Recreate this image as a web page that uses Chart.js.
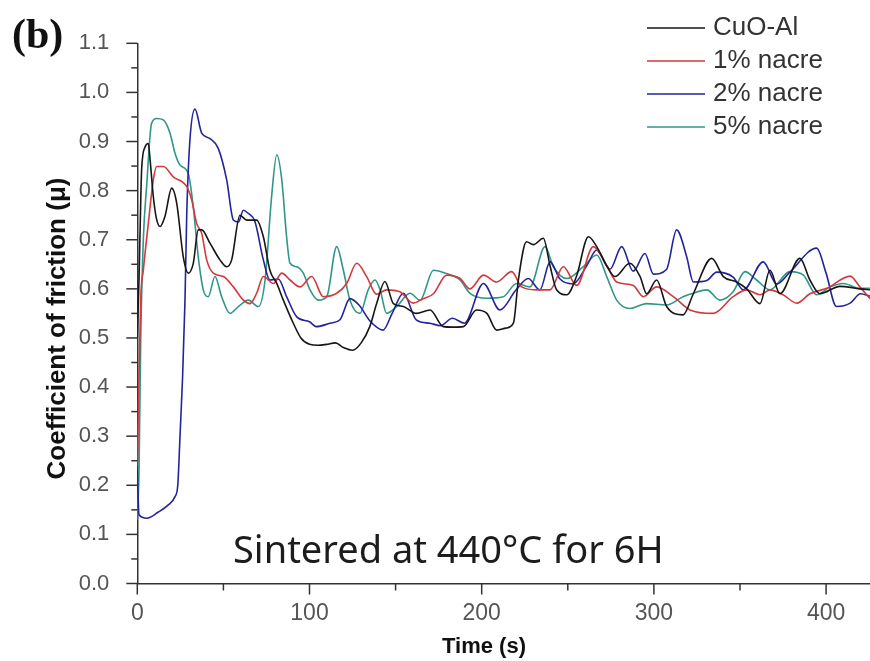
<!DOCTYPE html>
<html>
<head>
<meta charset="utf-8">
<script src="https://cdn.jsdelivr.net/npm/chart.js@4.4.1/dist/chart.umd.min.js"></script>
<style>
  html, body { margin: 0; padding: 0; background: #fff; }
  #wrap { width: 870px; height: 661px; position: relative; }
</style>
</head>
<body>
<div id="wrap"><canvas id="cof-chart"></canvas></div>
<script>
// --- data (time in s, coefficient of friction) ---
const seriesLabels = ['CuO-Al', '1% nacre', '2% nacre', '5% nacre'];
const timeTickLabels = [0, 100, 200, 300, 400];

const cuoTime = [0, 1, 2, 2.5, 4.5, 6.4, 7.5, 9.3, 11, 13.2, 16, 20, 22.9, 26.7, 29.6, 32.5, 35.4, 37.4, 42.2, 48, 51.9, 54.8, 59.6, 63.5, 69.3, 73.2, 77, 81, 84.8, 90.6, 95, 100, 105, 110, 115, 120, 125, 130, 135, 139, 143.8, 148.7, 154.5, 162, 170, 177.7, 183, 189.3, 197, 203, 208.7, 214, 218.4, 221.3, 226, 230, 235.8, 239.7, 243.5, 249.4, 255, 262, 266.8, 272.6, 277.4, 286, 292, 295.8, 301.6, 307.4, 317, 322.9, 333.6, 340.3, 348, 353.9, 361.6, 367.4, 373.2, 384.8, 390.6, 396.4, 408, 419.6, 425.5];
const cuoMu = [0.5, 0.62, 0.78, 0.842, 0.889, 0.896, 0.86, 0.788, 0.745, 0.727, 0.747, 0.805, 0.774, 0.665, 0.632, 0.652, 0.72, 0.72, 0.693, 0.659, 0.645, 0.659, 0.75, 0.74, 0.74, 0.706, 0.638, 0.611, 0.577, 0.53, 0.5, 0.487, 0.485, 0.487, 0.49, 0.48, 0.475, 0.49, 0.523, 0.57, 0.615, 0.57, 0.564, 0.55, 0.557, 0.523, 0.522, 0.523, 0.557, 0.55, 0.516, 0.52, 0.53, 0.618, 0.696, 0.69, 0.703, 0.647, 0.598, 0.588, 0.625, 0.706, 0.686, 0.647, 0.625, 0.652, 0.625, 0.59, 0.618, 0.564, 0.547, 0.59, 0.662, 0.625, 0.614, 0.6, 0.57, 0.638, 0.59, 0.662, 0.618, 0.59, 0.605, 0.6, 0.598];

const nacre1Time = [0, 1, 2, 3.5, 6.4, 9.3, 11.3, 15.1, 20.9, 28.7, 31.6, 34.5, 37.4, 40.3, 44.1, 50, 55.8, 61.6, 65.4, 69.3, 73.2, 79, 83.9, 88.7, 94.5, 101.3, 108, 115.8, 121.6, 127.4, 133.2, 139, 144.8, 152.5, 160.3, 166, 172, 179.7, 187.4, 193.2, 201, 208.7, 217.4, 223.2, 231.9, 239.7, 247.4, 255.2, 264.8, 272.6, 278.4, 288, 293.9, 301.6, 311.3, 321, 334.5, 346, 353.9, 361.6, 367.4, 375, 383, 390.6, 400.4, 414, 419.6, 425.5];
const nacre1Mu = [0.24, 0.42, 0.58, 0.638, 0.733, 0.822, 0.849, 0.849, 0.828, 0.808, 0.781, 0.733, 0.713, 0.659, 0.632, 0.625, 0.604, 0.577, 0.57, 0.591, 0.625, 0.611, 0.632, 0.618, 0.604, 0.625, 0.584, 0.591, 0.611, 0.652, 0.625, 0.589, 0.598, 0.594, 0.571, 0.58, 0.59, 0.628, 0.621, 0.6, 0.628, 0.614, 0.635, 0.604, 0.598, 0.598, 0.645, 0.607, 0.686, 0.647, 0.614, 0.607, 0.584, 0.604, 0.584, 0.557, 0.55, 0.584, 0.598, 0.588, 0.598, 0.588, 0.571, 0.59, 0.601, 0.626, 0.604, 0.58];

const nacre2Time = [0, 1, 5.5, 12, 18, 21.9, 23.5, 24.8, 26.3, 27.7, 28.7, 30.5, 33.5, 37.4, 42.2, 47, 51.9, 55.8, 58.7, 61.6, 64, 68.3, 73.2, 77, 81.9, 86.7, 92.6, 100, 104, 112, 117.7, 123.5, 129, 135, 142.7, 148, 154.5, 162, 170, 176, 183, 190, 201, 210.6, 220, 227, 233.8, 239.7, 245.5, 253, 261, 266.8, 274.5, 281.3, 288, 294.8, 299.7, 307.4, 313.2, 319, 322.9, 330.7, 336.5, 346, 352, 363.5, 371.3, 379, 394.5, 400, 406, 414, 420, 425.5];
const nacre2Mu = [0.23, 0.14, 0.133, 0.145, 0.16, 0.177, 0.2, 0.3, 0.42, 0.577, 0.75, 0.9, 0.966, 0.917, 0.906, 0.886, 0.822, 0.74, 0.736, 0.76, 0.755, 0.737, 0.659, 0.618, 0.62, 0.584, 0.543, 0.533, 0.523, 0.53, 0.537, 0.58, 0.566, 0.535, 0.516, 0.55, 0.591, 0.537, 0.53, 0.525, 0.54, 0.53, 0.611, 0.557, 0.598, 0.621, 0.598, 0.655, 0.62, 0.61, 0.647, 0.679, 0.64, 0.686, 0.636, 0.672, 0.63, 0.64, 0.72, 0.666, 0.614, 0.617, 0.634, 0.624, 0.598, 0.655, 0.61, 0.634, 0.683, 0.632, 0.564, 0.571, 0.59, 0.585];

const nacre5Time = [0, 1, 2, 3.5, 5.4, 8.3, 11.3, 15.1, 19, 21.9, 24.8, 29.6, 32.5, 35.4, 38.3, 41.2, 45.1, 49, 53.8, 58.7, 64.5, 70.3, 74.2, 78, 81, 83.9, 86.7, 88.7, 92.6, 96.4, 100.3, 105.1, 110, 115.8, 119.6, 123.5, 129.3, 134.1, 138, 141, 144.8, 150.6, 158.4, 164.2, 172, 179.7, 187.4, 193.2, 203, 212.5, 220.3, 228, 236.8, 241.6, 249.4, 259, 266.8, 272.6, 278.4, 286, 295.8, 307.4, 317, 322.9, 330.7, 338.4, 346, 352.9, 359.6, 367.4, 379, 386.8, 394.5, 402.3, 410, 419.6, 425.5];
const nacre5Mu = [0.13, 0.23, 0.5, 0.7, 0.808, 0.937, 0.947, 0.944, 0.917, 0.876, 0.852, 0.835, 0.767, 0.665, 0.598, 0.584, 0.625, 0.584, 0.55, 0.564, 0.577, 0.564, 0.618, 0.788, 0.873, 0.822, 0.706, 0.652, 0.645, 0.632, 0.598, 0.577, 0.584, 0.686, 0.639, 0.577, 0.55, 0.598, 0.618, 0.598, 0.55, 0.564, 0.591, 0.577, 0.638, 0.631, 0.618, 0.591, 0.581, 0.584, 0.611, 0.604, 0.686, 0.645, 0.621, 0.645, 0.669, 0.625, 0.577, 0.56, 0.57, 0.567, 0.584, 0.591, 0.598, 0.577, 0.594, 0.635, 0.618, 0.598, 0.635, 0.628, 0.588, 0.604, 0.611, 0.601, 0.601];

const seriesColors = ['#161616', '#d3383c', '#23239c', '#2f9688'];

const xMax = 425.5;
const yMax = 1.1;
const annotationText = 'Sintered at 440\u00B0C for 6H';
const yTitle = 'Coefficient of friction (\u03BC)';
const xTitle = 'Time (s)';

function toPoints(times, values) {
  return times.map((t, i) => ({ x: t, y: values[i] }));
}

const allSeries = [
  toPoints(cuoTime, cuoMu),
  toPoints(nacre1Time, nacre1Mu),
  toPoints(nacre2Time, nacre2Mu),
  toPoints(nacre5Time, nacre5Mu)
];

// tick marks (major + minor), axis titles, legend, panel letter and annotation
const decorPlugin = {
  id: 'decor',
  afterDraw(chart) {
    const ctx = chart.ctx;
    const xs = chart.scales.x;
    const ys = chart.scales.y;
    const area = chart.chartArea;
    ctx.save();
    ctx.strokeStyle = '#333';
    ctx.lineWidth = 1.5;

    // y ticks every 0.05
    for (let i = 0; i <= 22; i++) {
      const py = ys.getPixelForValue(i * 0.05);
      const len = i % 2 === 0 ? 11 : 6;
      ctx.beginPath();
      ctx.moveTo(area.left - len, py);
      ctx.lineTo(area.left, py);
      ctx.stroke();
    }
    // x ticks every 50
    for (let t = 0; t <= xMax; t += 50) {
      const px = xs.getPixelForValue(t);
      const len = t % 100 === 0 ? 11 : 7;
      ctx.beginPath();
      ctx.moveTo(px, area.bottom);
      ctx.lineTo(px, area.bottom + len);
      ctx.stroke();
    }

    // x axis title
    ctx.fillStyle = '#111';
    ctx.font = 'bold 22px "Liberation Sans", Arial, sans-serif';
    ctx.textAlign = 'center';
    ctx.textBaseline = 'middle';
    ctx.fillText(xTitle, 484, 647);

    // y axis title (rotated)
    ctx.save();
    ctx.translate(65, 328.5);
    ctx.rotate(-Math.PI / 2);
    ctx.font = 'bold 26px "Liberation Sans", Arial, sans-serif';
    ctx.textAlign = 'center';
    ctx.textBaseline = 'alphabetic';
    ctx.fillText(yTitle, 0, 0);
    ctx.restore();

    // panel letter
    ctx.font = 'bold 42px "Liberation Serif", "Times New Roman", serif';
    ctx.textAlign = 'left';
    ctx.textBaseline = 'alphabetic';
    ctx.fillText('(b)', 12, 48);

    // annotation
    ctx.fillStyle = '#1c1c1c';
    ctx.font = '38px "Noto Sans", sans-serif';
    ctx.fillText(annotationText, 233, 563);

    // legend
    ctx.font = '26px "Liberation Sans", Arial, sans-serif';
    ctx.textBaseline = 'middle';
    chart.data.datasets.forEach((ds, i) => {
      const y = 28 + i * 33;
      ctx.strokeStyle = ds.borderColor;
      ctx.lineWidth = 1.6;
      ctx.beginPath();
      ctx.moveTo(647, y);
      ctx.lineTo(705, y);
      ctx.stroke();
      ctx.fillStyle = '#333';
      ctx.fillText(ds.label, 713, y);
    });
    ctx.restore();
  }
};

const canvas = document.getElementById('cof-chart');
new Chart(canvas.getContext('2d'), {
  type: 'line',
  data: {
    datasets: seriesLabels.map((label, i) => ({
      label: label,
      data: allSeries[i],
      borderColor: seriesColors[i],
      backgroundColor: seriesColors[i],
      borderWidth: 1.6,
      pointRadius: 0,
      cubicInterpolationMode: 'monotone',
      fill: false
    }))
  },
  options: {
    responsive: true,
    maintainAspectRatio: false,
    animation: false,
    layout: {
      padding: { top: 43.3, right: 0, bottom: 0, left: 0 }
    },
    plugins: {
      legend: { display: false },
      tooltip: { enabled: false }
    },
    scales: {
      x: {
        type: 'linear',
        min: 0,
        max: xMax,
        grid: { display: false },
        border: { display: true, color: '#333', width: 1.5 },
        afterBuildTicks: function(scale) {
          scale.ticks = timeTickLabels.map(v => ({ value: v }));
        },
        afterFit: function(scale) {
          scale.height = 77.5;
        },
        ticks: {
          autoSkip: false,
          color: '#555',
          padding: 8,
          maxRotation: 0,
          font: { size: 23, family: '"Liberation Sans", Arial, sans-serif' }
        }
      },
      y: {
        min: 0,
        max: yMax,
        grid: { display: false },
        border: { display: true, color: '#333', width: 1.5 },
        afterFit: function(scale) {
          scale.width = 137.3;
        },
        ticks: {
          stepSize: 0.1,
          color: '#555',
          padding: 20,
          font: { size: 22, family: '"Liberation Sans", Arial, sans-serif' },
          callback: function(value) {
            return value.toFixed(1);
          }
        }
      }
    }
  },
  plugins: [decorPlugin]
});
</script>
</body>
</html>
